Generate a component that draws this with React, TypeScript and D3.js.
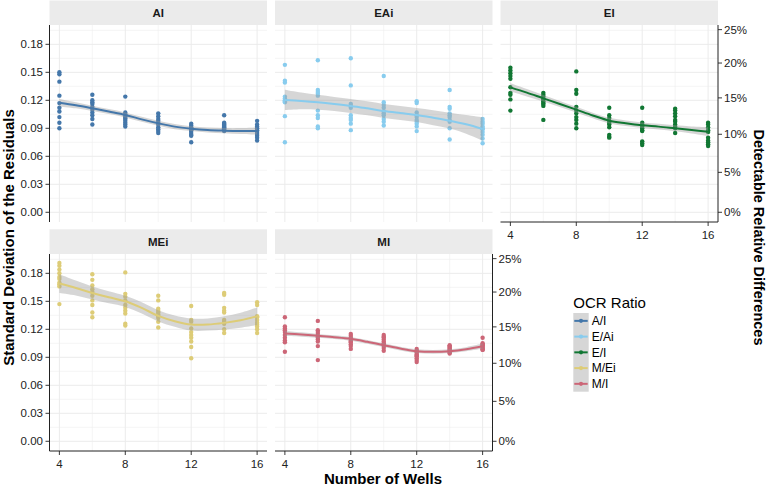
import * as d3 from 'd3';

// x positions of the replicates and of the smooth read-off
const wells = [4, 6, 8, 10, 12, 14, 16];
const fitWells = [4, 5, 6, 7, 8, 9, 10, 11, 12, 13, 14, 15, 16];

const panelNames = ['AI', 'EAi', 'EI', 'MEi', 'MI'];
const ratioLabels = ['A/I', 'E/Ai', 'E/I', 'M/Ei', 'M/I'];
const ratioColors = ['#4477AA', '#88CCEE', '#117733', '#DDCC77', '#CC6677'];

const sdTicks = [0, 0.03, 0.06, 0.09, 0.12, 0.15, 0.18];
const pctTicks = [0, 0.05, 0.1, 0.15, 0.2, 0.25];
const wellTicks = [4, 8, 12, 16];

// residual sd per number of wells (one row per x in `wells`)
const aiSd = [
  [0.150, 0.148, 0.140, 0.125, 0.117, 0.112, 0.108, 0.102, 0.096, 0.090],
  [0.126, 0.120, 0.118, 0.116, 0.113, 0.110, 0.107, 0.104, 0.100, 0.094],
  [0.124, 0.107, 0.105, 0.103, 0.101, 0.100, 0.098, 0.096, 0.094, 0.092],
  [0.106, 0.103, 0.100, 0.098, 0.096, 0.094, 0.091, 0.089, 0.087, 0.085],
  [0.095, 0.093, 0.091, 0.090, 0.088, 0.087, 0.085, 0.083, 0.082, 0.075],
  [0.104, 0.096, 0.095, 0.094, 0.093, 0.092, 0.091, 0.090, 0.089, 0.087],
  [0.098, 0.094, 0.092, 0.090, 0.088, 0.086, 0.084, 0.082, 0.080, 0.077],
];
const eaiSd = [
  [0.158, 0.141, 0.139, 0.124, 0.122, 0.120, 0.119, 0.118, 0.103, 0.075],
  [0.163, 0.131, 0.129, 0.127, 0.125, 0.109, 0.104, 0.101, 0.092, 0.090],
  [0.165, 0.136, 0.116, 0.114, 0.112, 0.104, 0.101, 0.099, 0.095, 0.088],
  [0.146, 0.118, 0.115, 0.112, 0.108, 0.106, 0.104, 0.100, 0.097, 0.093],
  [0.119, 0.117, 0.107, 0.104, 0.102, 0.099, 0.097, 0.095, 0.092, 0.087],
  [0.131, 0.113, 0.111, 0.106, 0.104, 0.102, 0.099, 0.097, 0.090, 0.078],
  [0.100, 0.097, 0.095, 0.092, 0.090, 0.089, 0.086, 0.083, 0.079, 0.074],
];
const eiSd = [
  [0.155, 0.152, 0.149, 0.146, 0.143, 0.134, 0.128, 0.126, 0.121, 0.109],
  [0.128, 0.126, 0.124, 0.122, 0.121, 0.119, 0.117, 0.116, 0.114, 0.099],
  [0.151, 0.131, 0.127, 0.113, 0.109, 0.106, 0.102, 0.099, 0.095, 0.090],
  [0.112, 0.104, 0.101, 0.098, 0.096, 0.094, 0.091, 0.083, 0.081, 0.080],
  [0.112, 0.096, 0.094, 0.092, 0.090, 0.088, 0.087, 0.076, 0.074, 0.072],
  [0.111, 0.109, 0.106, 0.103, 0.099, 0.097, 0.094, 0.092, 0.090, 0.085],
  [0.096, 0.094, 0.091, 0.088, 0.086, 0.080, 0.077, 0.075, 0.073, 0.071],
];
const meiSd = [
  [0.191, 0.188, 0.184, 0.180, 0.176, 0.174, 0.170, 0.168, 0.166, 0.147],
  [0.179, 0.173, 0.167, 0.163, 0.160, 0.156, 0.151, 0.146, 0.138, 0.133],
  [0.181, 0.158, 0.155, 0.151, 0.146, 0.143, 0.140, 0.137, 0.126, 0.124],
  [0.156, 0.151, 0.142, 0.140, 0.138, 0.136, 0.134, 0.132, 0.128, 0.122],
  [0.145, 0.130, 0.128, 0.121, 0.117, 0.114, 0.111, 0.107, 0.101, 0.089],
  [0.159, 0.157, 0.143, 0.140, 0.138, 0.130, 0.128, 0.126, 0.120, 0.116],
  [0.149, 0.146, 0.134, 0.133, 0.130, 0.127, 0.125, 0.123, 0.120, 0.116],
];
const miSd = [
  [0.133, 0.123, 0.121, 0.119, 0.117, 0.114, 0.111, 0.108, 0.106, 0.096],
  [0.129, 0.119, 0.117, 0.115, 0.112, 0.111, 0.109, 0.107, 0.102, 0.087],
  [0.115, 0.113, 0.111, 0.110, 0.108, 0.107, 0.106, 0.104, 0.102, 0.099],
  [0.114, 0.112, 0.111, 0.109, 0.107, 0.105, 0.104, 0.102, 0.100, 0.097],
  [0.099, 0.097, 0.096, 0.095, 0.093, 0.092, 0.091, 0.089, 0.087, 0.085],
  [0.103, 0.102, 0.101, 0.100, 0.099, 0.098, 0.097, 0.096, 0.095, 0.094],
  [0.111, 0.105, 0.104, 0.103, 0.102, 0.101, 0.100, 0.099, 0.098, 0.098],
];

// loess fit and half-width of its band, read at each of `fitWells`
const aiFit = [0.1175, 0.1147, 0.1114, 0.1079, 0.1043, 0.0996, 0.0954, 0.0918, 0.0896, 0.0882, 0.0875, 0.0871, 0.0871];
const aiBand = [0.004, 0.0033, 0.0029, 0.0027, 0.0027, 0.0027, 0.0027, 0.0027, 0.0026, 0.0026, 0.0027, 0.0031, 0.0038];
const eaiFit = [0.1204, 0.1193, 0.1179, 0.1161, 0.114, 0.1114, 0.1086, 0.1064, 0.1043, 0.1014, 0.0982, 0.0943, 0.0893];
const eaiBand = [0.011, 0.009, 0.008, 0.0075, 0.0075, 0.0075, 0.0075, 0.0075, 0.0075, 0.008, 0.0085, 0.01, 0.0125];
const eiFit = [0.1339, 0.1282, 0.1221, 0.1161, 0.11, 0.1038, 0.0982, 0.0954, 0.0932, 0.0918, 0.09, 0.0882, 0.0864];
const eiBand = [0.0045, 0.004, 0.0035, 0.0032, 0.003, 0.003, 0.003, 0.003, 0.003, 0.003, 0.0032, 0.0038, 0.0048];
const meiFit = [0.169, 0.1643, 0.159, 0.1543, 0.15, 0.1429, 0.1344, 0.1287, 0.1251, 0.1251, 0.1269, 0.1297, 0.134];
const meiBand = [0.01, 0.008, 0.007, 0.0065, 0.006, 0.006, 0.006, 0.006, 0.0065, 0.0065, 0.007, 0.008, 0.0095];
const miFit = [0.1155, 0.1144, 0.113, 0.1116, 0.1098, 0.1066, 0.103, 0.0994, 0.0966, 0.0959, 0.0966, 0.0987, 0.1019];
const miBand = [0.0028, 0.0024, 0.0021, 0.002, 0.002, 0.002, 0.002, 0.002, 0.002, 0.002, 0.002, 0.0022, 0.0028];

const sdSets = [aiSd, eaiSd, eiSd, meiSd, miSd];
const fitSets = [aiFit, eaiFit, eiFit, meiFit, miFit];
const bandSets = [aiBand, eaiBand, eiBand, meiBand, miBand];

const FONT = '"Liberation Sans", Arial, Helvetica, sans-serif';
const W = 768;
const H = 486;
const colLeft = [49.5, 275, 500.5];
const panelW = 217.5;
const stripTop = [0.5, 229.3];
const plotTop = [25, 254];
const plotH = 197;
const X_DOMAIN = [3.4, 16.6];
const Y_DOMAIN = [-0.0104, 0.2007];

// secondary axis: detectable relative difference = exp(k * sd) - 1
const K = 1.14;
const sdFromPct = (p: number) => Math.log(1 + p) / K;

const fmtSd = d3.format('.2f');
const fmtPct = d3.format('.0%');

function Panel({ i }: { i: number }) {
  const n = panelNames.length;
  const col = i % 3;
  const row = Math.floor(i / 3);
  const x0 = colLeft[col];
  const y0 = plotTop[row];
  const x = d3.scaleLinear().domain(X_DOMAIN).range([x0, x0 + panelW]);
  const y = d3.scaleLinear().domain(Y_DOMAIN).range([y0 + plotH, y0]);
  const color = ratioColors[i];
  const showLeft = col === 0;
  const showRight = col === 2 || i === n - 1;
  const showBottom = i + 3 >= n;

  const minorY = sdTicks.map((t) => t + 0.015).filter((t) => t < Y_DOMAIN[1]);
  const minorX = wellTicks.slice(0, -1).map((t) => t + 2);

  const fit = fitWells.map((w, k) => ({ w, f: fitSets[i][k], b: bandSets[i][k] }));
  const curve = d3.curveCatmullRom.alpha(0.5);
  const area = d3
    .area<{ w: number; f: number; b: number }>()
    .x((d) => x(d.w))
    .y0((d) => y(d.f - d.b))
    .y1((d) => y(d.f + d.b))
    .curve(curve);
  const line = d3
    .line<{ w: number; f: number; b: number }>()
    .x((d) => x(d.w))
    .y((d) => y(d.f))
    .curve(curve);

  const pts = wells.flatMap((w, k) => sdSets[i][k].map((v) => ({ w, v })));
  const yb = y0 + plotH;

  return (
    <g>
      <rect x={x0} y={stripTop[row]} width={panelW} height={y0 - stripTop[row]} fill="#EBEBEB" />
      <text
        x={x0 + panelW / 2}
        y={(stripTop[row] + y0) / 2}
        dy="0.35em"
        textAnchor="middle"
        fontSize={11.5}
        fontWeight="bold"
        fill="#1a1a1a"
      >
        {panelNames[i]}
      </text>

      {/* grid */}
      {minorY.map((t) => (
        <line key={'my' + t} x1={x0} x2={x0 + panelW} y1={y(t)} y2={y(t)} stroke="#EEEEEE" strokeWidth={0.6} />
      ))}
      {minorX.map((t) => (
        <line key={'mx' + t} x1={x(t)} x2={x(t)} y1={y0} y2={yb} stroke="#EEEEEE" strokeWidth={0.6} />
      ))}
      {sdTicks.map((t) => (
        <line key={'gy' + t} x1={x0} x2={x0 + panelW} y1={y(t)} y2={y(t)} stroke="#EBEBEB" strokeWidth={1} />
      ))}
      {wellTicks.map((t) => (
        <line key={'gx' + t} x1={x(t)} x2={x(t)} y1={y0} y2={yb} stroke="#EBEBEB" strokeWidth={1} />
      ))}

      {/* points, band, fit */}
      {pts.map((p, k) => (
        <circle key={k} cx={x(p.w)} cy={y(p.v)} r={2.2} fill={color} />
      ))}
      <path d={area(fit) || ''} fill="#999999" fillOpacity={0.4} />
      <path d={line(fit) || ''} fill="none" stroke={color} strokeWidth={2} />

      {/* axes */}
      {showLeft && (
        <g>
          <line x1={x0} x2={x0} y1={y0} y2={yb} stroke="#222" strokeWidth={1} />
          {sdTicks.map((t) => (
            <g key={t}>
              <line x1={x0 - 4} x2={x0} y1={y(t)} y2={y(t)} stroke="#222" strokeWidth={0.9} />
              <text x={x0 - 6.5} y={y(t)} dy="0.35em" textAnchor="end" fontSize={11.5} fill="#222">
                {fmtSd(t)}
              </text>
            </g>
          ))}
        </g>
      )}
      {showRight && (
        <g>
          <line x1={x0 + panelW} x2={x0 + panelW} y1={y0} y2={yb} stroke="#222" strokeWidth={1} />
          {pctTicks.map((p) => (
            <g key={p}>
              <line
                x1={x0 + panelW}
                x2={x0 + panelW + 4}
                y1={y(sdFromPct(p))}
                y2={y(sdFromPct(p))}
                stroke="#222"
                strokeWidth={0.9}
              />
              <text x={x0 + panelW + 6} y={y(sdFromPct(p))} dy="0.35em" fontSize={11.5} fill="#222">
                {fmtPct(p)}
              </text>
            </g>
          ))}
        </g>
      )}
      {showBottom && (
        <g>
          <line x1={x0} x2={x0 + panelW} y1={yb} y2={yb} stroke="#222" strokeWidth={1} />
          {wellTicks.map((t) => (
            <g key={t}>
              <line x1={x(t)} x2={x(t)} y1={yb} y2={yb + 4} stroke="#222" strokeWidth={0.9} />
              <text x={x(t)} y={yb + 13} dy="0.35em" textAnchor="middle" fontSize={11.5} fill="#222">
                {t}
              </text>
            </g>
          ))}
        </g>
      )}
    </g>
  );
}

export default function App() {
  const keyX = 573.3;
  const keyTop = 313;
  const keyH = 15.74;
  const keyW = 15.4;

  return (
    <svg
      width={W}
      height={H}
      viewBox={`0 0 ${W} ${H}`}
      style={{ position: 'absolute', left: 0, top: 0, display: 'block', background: '#fff' }}
      fontFamily={FONT}
    >
      <rect width={W} height={H} fill="#fff" />
      {panelNames.map((_, i) => (
        <Panel key={i} i={i} />
      ))}

      {/* axis titles */}
      <text
        transform="translate(13.5, 237.5) rotate(-90)"
        textAnchor="middle"
        fontSize={15}
        fontWeight="bold"
        fill="#000"
      >
        Standard Deviation of the Residuals
      </text>
      <text
        transform="translate(753.5, 237.5) rotate(90)"
        textAnchor="middle"
        fontSize={14.5}
        fontWeight="bold"
        fill="#000"
      >
        Detectable Relative Differences
      </text>
      <text x={383} y={484} textAnchor="middle" fontSize={15} fontWeight="bold" fill="#000">
        Number of Wells
      </text>

      {/* legend */}
      <text x={keyX} y={308} fontSize={15} fill="#000">
        OCR Ratio
      </text>
      <rect x={keyX} y={keyTop} width={keyW} height={keyH * ratioLabels.length} fill="#D6D6D6" />
      {ratioLabels.map((lab, k) => {
        const cy = keyTop + keyH * (k + 0.5);
        return (
          <g key={lab}>
            <line x1={keyX + 1} x2={keyX + keyW - 1} y1={cy} y2={cy} stroke={ratioColors[k]} strokeWidth={2} />
            <circle cx={keyX + keyW / 2} cy={cy} r={2.1} fill={ratioColors[k]} />
            <text x={591.7} y={cy} dy="0.35em" fontSize={12} fill="#000">
              {lab}
            </text>
          </g>
        );
      })}
    </svg>
  );
}
